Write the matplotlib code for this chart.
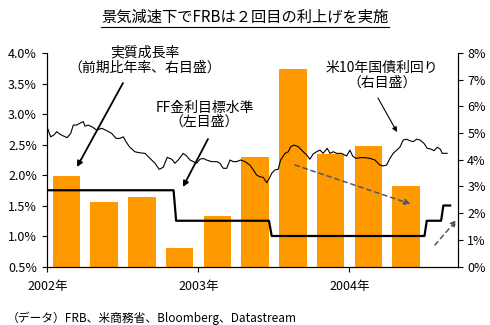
import matplotlib

matplotlib.use('Agg')
import matplotlib.pyplot as plt
from matplotlib.lines import Line2D

plt.rcParams['font.family'] = ['Noto Sans CJK JP', 'DejaVu Sans']

# real GDP growth, q/q annualised (%), right axis
gdp_quarters = [2002.125, 2002.375, 2002.625, 2002.875, 2003.125,
                2003.375, 2003.625, 2003.875, 2004.125, 2004.375]
gdp_growth = [3.4, 2.4, 2.6, 0.7, 1.9, 4.1, 7.4, 4.2, 4.5, 3.0]

# FF target rate (%), left axis
ff_dates = [2002.000, 2002.835, 2002.852, 2003.467, 2003.485,
            2004.497, 2004.512, 2004.607, 2004.622, 2004.667]
ff_rate = [1.75, 1.75, 1.25, 1.25, 1.00, 1.00, 1.25, 1.25, 1.50, 1.50]

# US 10y treasury yield (%), right axis
ust_dates = [
    2002.000, 2002.005, 2002.021, 2002.043, 2002.061, 2002.083, 2002.105,
    2002.131, 2002.154, 2002.171, 2002.193, 2002.215, 2002.237, 2002.248,
    2002.270, 2002.299, 2002.326, 2002.359, 2002.392, 2002.425, 2002.454,
    2002.480, 2002.502, 2002.520, 2002.542, 2002.579, 2002.613, 2002.646,
    2002.679, 2002.712, 2002.740, 2002.767, 2002.793, 2002.823, 2002.844,
    2002.866, 2002.899, 2002.922, 2002.944, 2002.966, 2002.988, 2003.010,
    2003.032, 2003.054, 2003.087, 2003.121, 2003.142, 2003.164, 2003.187,
    2003.209, 2003.230, 2003.253, 2003.279, 2003.308, 2003.341, 2003.363,
    2003.385, 2003.407, 2003.429, 2003.452, 2003.469, 2003.485, 2003.507,
    2003.528, 2003.544, 2003.573, 2003.595, 2003.611, 2003.632, 2003.661,
    2003.694, 2003.717, 2003.738, 2003.760, 2003.783, 2003.805, 2003.826,
    2003.853, 2003.871, 2003.893, 2003.915, 2003.948, 2003.981, 2004.003,
    2004.021, 2004.043, 2004.070, 2004.103, 2004.136, 2004.169, 2004.202,
    2004.224, 2004.246, 2004.268, 2004.290, 2004.313, 2004.334, 2004.356,
    2004.379, 2004.401, 2004.423, 2004.445, 2004.467, 2004.493, 2004.515,
    2004.544, 2004.560, 2004.582, 2004.603, 2004.614, 2004.647,
]
ust_yield = [
    5.18, 5.11, 4.86, 4.93, 5.05, 4.96, 4.89,
    4.83, 4.99, 5.30, 5.30, 5.37, 5.43, 5.26,
    5.30, 5.22, 5.11, 5.18, 5.09, 4.99, 4.80,
    4.80, 4.86, 4.68, 4.49, 4.30, 4.26, 4.24,
    4.05, 3.87, 3.64, 3.72, 4.09, 4.02, 3.87,
    3.99, 4.24, 4.14, 3.99, 3.93, 3.87, 4.02,
    4.05, 3.99, 3.93, 3.93, 3.87, 3.68, 3.68,
    3.99, 3.93, 3.93, 3.99, 3.93, 3.80, 3.62,
    3.43, 3.36, 3.34, 3.14, 3.30, 3.49, 3.62,
    3.64, 3.99, 4.24, 4.30, 4.49, 4.55, 4.49,
    4.30, 4.18, 4.02, 4.22, 4.30, 4.36, 4.24,
    4.43, 4.24, 4.30, 4.24, 4.24, 4.14, 4.36,
    4.14, 4.05, 4.08, 4.08, 4.05, 3.99, 3.80,
    3.77, 3.80, 4.05, 4.24, 4.36, 4.47, 4.74,
    4.77, 4.71, 4.68, 4.77, 4.74, 4.62, 4.43,
    4.39, 4.34, 4.47, 4.39, 4.24, 4.24,
]

left_ticks = [0.5, 1.0, 1.5, 2.0, 2.5, 3.0, 3.5, 4.0]
right_ticks = [0, 1, 2, 3, 4, 5, 6, 7, 8]
year_ticks = [2002, 2003, 2004]
year_labels = ['2002年', '2003年', '2004年']

fig = plt.figure(figsize=(4.9, 3.25), dpi=100)
ax = fig.add_axes([0.0969, 0.18, 0.8378, 0.6569])
ax2 = ax.twinx()
ax.set_zorder(ax2.get_zorder() + 1)
ax.patch.set_visible(False)

ax2.bar(gdp_quarters, gdp_growth, width=0.182, color='#FF9900', zorder=1)
ax2.plot(ust_dates, ust_yield, color='black', lw=0.8, zorder=2)
ax.plot(ff_dates, ff_rate, color='black', lw=1.6, zorder=3)

ax.set_xlim(2002.0, 2004.719)
ax.set_ylim(0.5, 4.0)
ax2.set_ylim(0, 8)
ax.set_xticks(year_ticks)
ax.set_xticklabels(year_labels)
ax.set_yticks(left_ticks)
ax.set_yticklabels([f'{v:.1f}%' for v in left_ticks])
ax2.set_yticks(right_ticks)
ax2.set_yticklabels([f'{v}%' for v in right_ticks])

for a in (ax, ax2):
    a.spines['top'].set_visible(False)
    a.tick_params(length=3.6, width=0.8, labelsize=9, direction='out')
ax.tick_params(axis='x', pad=6)
ax.tick_params(axis='y', pad=4)
ax2.tick_params(axis='y', pad=3)

# labels with arrows
ax.text(2002.646, 4.016, '実質成長率', ha='center', va='center', fontsize=10)
ax.text(2002.646, 3.754, '（前期比年率、右目盛）', ha='center', va='center',
        fontsize=10)
ax.annotate('', xy=(2002.195, 2.131), xytext=(2002.50, 3.508),
            arrowprops=dict(arrowstyle='-|>', color='black', lw=1.3,
                            mutation_scale=8, shrinkA=0, shrinkB=0))

ax.text(2003.043, 3.098, 'FF金利目標水準', ha='center', va='center',
        fontsize=10)
ax.text(2003.036, 2.869, '（左目盛）', ha='center', va='center', fontsize=10)
ax.annotate('', xy=(2002.897, 1.803), xytext=(2003.063, 2.590),
            arrowprops=dict(arrowstyle='-|>', color='black', lw=1.3,
                            mutation_scale=8, shrinkA=0, shrinkB=0))

ax.text(2004.215, 3.754, '米10年国債利回り', ha='center', va='center',
        fontsize=10)
ax.text(2004.215, 3.508, '（右目盛）', ha='center', va='center', fontsize=10)
ax.annotate('', xy=(2004.315, 2.705), xytext=(2004.189, 3.262),
            arrowprops=dict(arrowstyle='-|>', color='black', lw=0.8,
                            mutation_scale=7, shrinkA=0, shrinkB=0))

# dashed trend arrows
ax.annotate('', xy=(2004.405, 1.525), xytext=(2003.639, 2.164),
            arrowprops=dict(arrowstyle='-|>', color='#4a5868', lw=1.1,
                            linestyle=(0, (3, 2.5)), mutation_scale=9,
                            shrinkA=0, shrinkB=0))
ax.annotate('', xy=(2004.710, 1.262), xytext=(2004.566, 0.852),
            annotation_clip=False,
            arrowprops=dict(arrowstyle='-|>', color='#4a5868', lw=1.1,
                            linestyle=(0, (3, 2.5)), mutation_scale=9,
                            shrinkA=0, shrinkB=0))

title = fig.text(0.5, 1 - 17 / 325, '景気減速下でFRBは２回目の利上げを実施',
                 ha='center', va='center', fontsize=11)
fig.text(7 / 490, 1 - 318 / 325,
         '（データ）FRB、米商務省、Bloomberg、Datastream',
         ha='left', va='center', fontsize=8.5)

# underline the title
fig.canvas.draw()
bb = title.get_window_extent().transformed(fig.transFigure.inverted())
uy = 1 - 27 / 325
fig.add_artist(Line2D([bb.x0, bb.x1], [uy, uy], color='black', lw=0.8,
                      transform=fig.transFigure))

fig.savefig('out.png', dpi=100)
